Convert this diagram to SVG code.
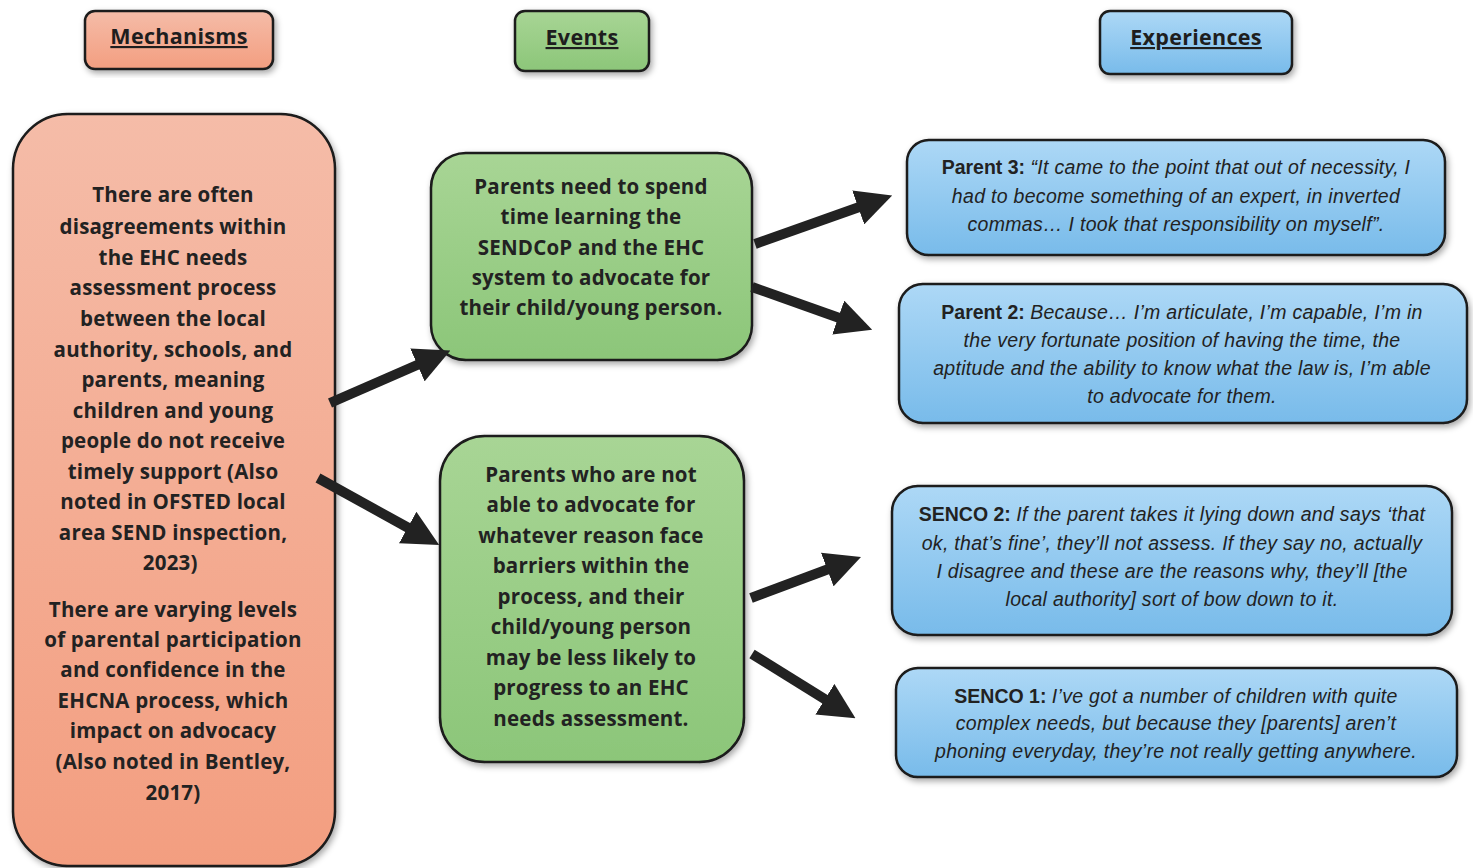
<svg xmlns="http://www.w3.org/2000/svg" width="1473" height="868" viewBox="0 0 1473 868">
<defs>
<linearGradient id="gR" x1="0" y1="0" x2="0" y2="1"><stop offset="0" stop-color="#f5bca8"/><stop offset="1" stop-color="#f39e80"/></linearGradient>
<linearGradient id="gG" x1="0" y1="0" x2="0" y2="1"><stop offset="0" stop-color="#a8d595"/><stop offset="1" stop-color="#8cc679"/></linearGradient>
<linearGradient id="gB" x1="0" y1="0" x2="0" y2="1"><stop offset="0" stop-color="#add8f6"/><stop offset="1" stop-color="#78bbea"/></linearGradient>
<filter id="sh" x="-10%" y="-10%" width="125%" height="125%"><feDropShadow dx="2" dy="3" stdDeviation="3" flood-color="#000" flood-opacity="0.35"/></filter>
<marker id="ah" viewBox="0 0 10 10" refX="2" refY="5" markerWidth="3.6" markerHeight="3.6" orient="auto" markerUnits="strokeWidth"><path d="M0,0 L10,5 L0,10 Z" fill="#222"/></marker>
</defs>
<style>
.box{stroke:#1a1a1a;stroke-width:2.5;filter:url(#sh)}
.r{fill:url(#gR)}.g{fill:url(#gG)}.b{fill:url(#gB)}
.hd{font-family:"Open Sans","Liberation Sans",sans-serif;font-weight:bold;font-size:21.5px;letter-spacing:0.3px;fill:#1e1e1e;text-anchor:middle;text-decoration:underline}
.m{font-family:"Open Sans","Liberation Sans",sans-serif;font-weight:bold;font-size:20.5px;letter-spacing:0.2px;fill:#222;text-anchor:middle}
.e{font-family:"Liberation Sans",Arial,sans-serif;font-style:italic;font-size:19.5px;letter-spacing:0.3px;fill:#222;text-anchor:middle}
.e .l{font-weight:bold;font-style:normal;letter-spacing:0}
.c{stroke:#222;stroke-width:10;fill:none;marker-end:url(#ah)}
</style>
<g id="h-mech"><rect class="box r" x="85" y="11" width="188" height="58" rx="10"/><text class="hd" x="179" y="44">Mechanisms</text></g>
<g id="h-events"><rect class="box g" x="515" y="11" width="134" height="60" rx="10"/><text class="hd" x="582" y="45">Events</text></g>
<g id="h-exp"><rect class="box b" x="1100" y="11" width="192" height="63" rx="10"/><text class="hd" x="1196" y="45">Experiences</text></g>

<g id="mech"><rect class="box r" x="13" y="114" width="322" height="752" rx="55"/>
<text class="m" x="173"><tspan x="173" y="202">There are often</tspan><tspan x="173" y="234">disagreements within</tspan><tspan x="173" y="265">the EHC needs</tspan><tspan x="173" y="295">assessment process</tspan><tspan x="173" y="326">between the local</tspan><tspan x="173" y="357">authority, schools, and</tspan><tspan x="173" y="387">parents, meaning</tspan><tspan x="173" y="418">children and young</tspan><tspan x="173" y="448">people do not receive</tspan><tspan x="173" y="479">timely support (Also</tspan><tspan x="173" y="509">noted in OFSTED local</tspan><tspan x="173" y="540">area SEND inspection,</tspan><tspan x="173" y="570">2023)</tspan>
<tspan x="173" y="617">There are varying levels</tspan><tspan x="173" y="647">of parental participation</tspan><tspan x="173" y="677">and confidence in the</tspan><tspan x="173" y="708">EHCNA process, which</tspan><tspan x="173" y="738">impact on advocacy</tspan><tspan x="173" y="769">(Also noted in Bentley,</tspan><tspan x="173" y="800">2017)</tspan></text></g>

<g id="ev1"><rect class="box g" x="431" y="153" width="321" height="207" rx="35"/>
<text class="m"><tspan x="591" y="194">Parents need to spend</tspan><tspan x="591" y="224">time learning the</tspan><tspan x="591" y="255">SENDCoP and the EHC</tspan><tspan x="591" y="285">system to advocate for</tspan><tspan x="591" y="315">their child/young person.</tspan></text></g>

<g id="ev2"><rect class="box g" x="440" y="436" width="304" height="326" rx="45"/>
<text class="m"><tspan x="591" y="482">Parents who are not</tspan><tspan x="591" y="512">able to advocate for</tspan><tspan x="591" y="543">whatever reason face</tspan><tspan x="591" y="573">barriers within the</tspan><tspan x="591" y="604">process, and their</tspan><tspan x="591" y="634">child/young person</tspan><tspan x="591" y="665">may be less likely to</tspan><tspan x="591" y="695">progress to an EHC</tspan><tspan x="591" y="726">needs assessment.</tspan></text></g>

<g id="p3"><rect class="box b" x="907" y="140" width="538" height="115" rx="22"/>
<text class="e"><tspan x="1176" y="174"><tspan class="l">Parent 3: </tspan>“It came to the point that out of necessity, I</tspan><tspan x="1176" y="203">had to become something of an expert, in inverted</tspan><tspan x="1176" y="231">commas… I took that responsibility on myself”.</tspan></text></g>

<g id="p2"><rect class="box b" x="899" y="284" width="568" height="139" rx="24"/>
<text class="e"><tspan x="1182" y="319"><tspan class="l">Parent 2: </tspan>Because… I’m articulate, I’m capable, I’m in</tspan><tspan x="1182" y="347">the very fortunate position of having the time, the</tspan><tspan x="1182" y="375">aptitude and the ability to know what the law is, I’m able</tspan><tspan x="1182" y="403">to advocate for them.</tspan></text></g>

<g id="s2"><rect class="box b" x="892" y="486" width="560" height="149" rx="26"/>
<text class="e"><tspan x="1172" y="521"><tspan class="l">SENCO 2: </tspan>If the parent takes it lying down and says ‘that</tspan><tspan x="1172" y="550">ok, that’s fine’, they’ll not assess. If they say no, actually</tspan><tspan x="1172" y="578">I disagree and these are the reasons why, they’ll [the</tspan><tspan x="1172" y="606">local authority] sort of bow down to it.</tspan></text></g>

<g id="s1"><rect class="box b" x="896" y="668" width="561" height="109" rx="22"/>
<text class="e"><tspan x="1176" y="703"><tspan class="l">SENCO 1: </tspan>I’ve got a number of children with quite</tspan><tspan x="1176" y="730">complex needs, but because they [parents] aren’t</tspan><tspan x="1176" y="758">phoning everyday, they’re not really getting anywhere.</tspan></text></g>

<g id="connectors">
<line class="c" x1="330" y1="403" x2="424" y2="362"/>
<line class="c" x1="318" y1="478" x2="414" y2="531"/>
<line class="c" x1="755" y1="244" x2="865" y2="205"/>
<line class="c" x1="752" y1="287" x2="845" y2="320"/>
<line class="c" x1="751" y1="598" x2="834" y2="567"/>
<line class="c" x1="752" y1="654" x2="831" y2="703"/>
</g>
</svg>
